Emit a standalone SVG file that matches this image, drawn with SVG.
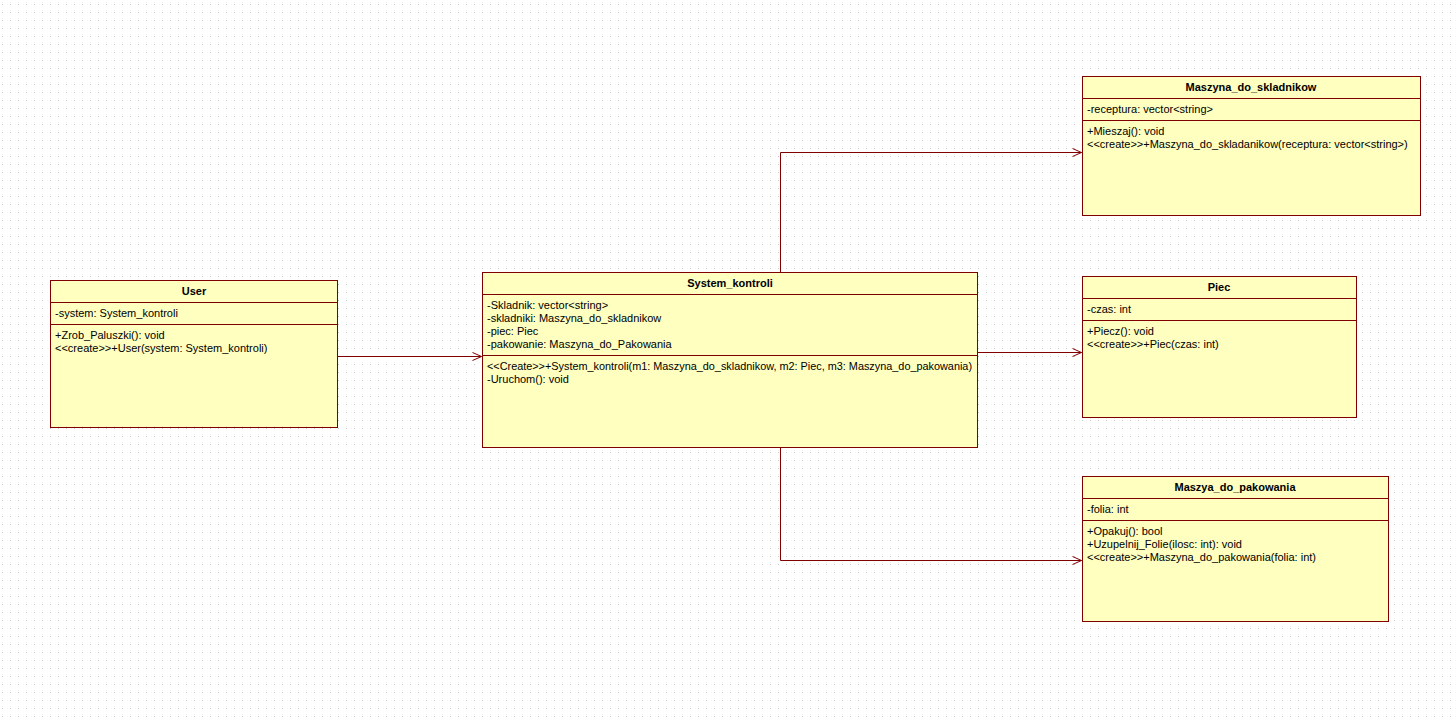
<svg xmlns="http://www.w3.org/2000/svg" width="1456" height="718" viewBox="0 0 1456 718">
<defs>
<pattern id="grid" x="0" y="0" width="8" height="8" patternUnits="userSpaceOnUse">
<rect x="2" y="4" width="1" height="1" fill="#c4c4c4"/>
</pattern>
<marker id="arr" markerWidth="12" markerHeight="12" refX="10" refY="5" orient="auto" markerUnits="userSpaceOnUse">
<path d="M1,1 L10,5 L1,9" fill="none" stroke="#800000" stroke-width="1"/>
</marker>
</defs>
<style>
.box{fill:#ffffc0;stroke:#800000;stroke-width:1}
.sep{stroke:#800000;stroke-width:1}
.t{font-family:"Liberation Sans",Arial,sans-serif;font-size:11px;fill:#000}
.title{font-family:"Liberation Sans",Arial,sans-serif;font-size:11px;font-weight:bold;fill:#000;text-anchor:middle}
.conn{fill:none;stroke:#800000;stroke-width:1}
</style>
<rect width="1456" height="718" fill="#ffffff"/>
<rect width="1456" height="718" fill="url(#grid)"/>

<g id="connectors">
<path class="conn" d="M337.5,356.5 H481.5" marker-end="url(#arr)"/>
<path class="conn" d="M780.5,272.5 V152.5 H1081.5" marker-end="url(#arr)"/>
<path class="conn" d="M977.5,352.5 H1081.5" marker-end="url(#arr)"/>
<path class="conn" d="M780.5,447.5 V560.5 H1081.5" marker-end="url(#arr)"/>
</g>

<g id="User">
<rect class="box" x="50.5" y="280.5" width="287" height="147"/>
<line class="sep" x1="50.5" y1="302.5" x2="337.5" y2="302.5"/>
<line class="sep" x1="50.5" y1="324.5" x2="337.5" y2="324.5"/>
<text class="title" x="194" y="295">User</text>
<text class="t" x="55" y="317">-system: System_kontroli</text>
<text class="t" x="55" y="339">+Zrob_Paluszki(): void</text>
<text class="t" x="55" y="352">&lt;&lt;create&gt;&gt;+User(system: System_kontroli)</text>
</g>

<g id="System_kontroli">
<rect class="box" x="482.5" y="272.5" width="495" height="175"/>
<line class="sep" x1="482.5" y1="294.5" x2="977.5" y2="294.5"/>
<line class="sep" x1="482.5" y1="355.5" x2="977.5" y2="355.5"/>
<text class="title" x="730" y="287">System_kontroli</text>
<text class="t" x="487" y="309">-Skladnik: vector&lt;string&gt;</text>
<text class="t" x="487" y="322">-skladniki: Maszyna_do_skladnikow</text>
<text class="t" x="487" y="335">-piec: Piec</text>
<text class="t" x="487" y="348">-pakowanie: Maszyna_do_Pakowania</text>
<text class="t" x="487" y="370" textLength="485" lengthAdjust="spacingAndGlyphs">&lt;&lt;Create&gt;&gt;+System_kontroli(m1: Maszyna_do_skladnikow, m2: Piec, m3: Maszyna_do_pakowania)</text>
<text class="t" x="487" y="383">-Uruchom(): void</text>
</g>

<g id="Maszyna_do_skladnikow">
<rect class="box" x="1082.5" y="76.5" width="338" height="139"/>
<line class="sep" x1="1082.5" y1="98.5" x2="1420.5" y2="98.5"/>
<line class="sep" x1="1082.5" y1="120.5" x2="1420.5" y2="120.5"/>
<text class="title" x="1251" y="91">Maszyna_do_skladnikow</text>
<text class="t" x="1087" y="113">-receptura: vector&lt;string&gt;</text>
<text class="t" x="1087" y="135">+Mieszaj(): void</text>
<text class="t" x="1087" y="148">&lt;&lt;create&gt;&gt;+Maszyna_do_skladanikow(receptura: vector&lt;string&gt;)</text>
</g>

<g id="Piec">
<rect class="box" x="1082.5" y="276.5" width="274" height="141"/>
<line class="sep" x1="1082.5" y1="298.5" x2="1356.5" y2="298.5"/>
<line class="sep" x1="1082.5" y1="320.5" x2="1356.5" y2="320.5"/>
<text class="title" x="1219" y="291">Piec</text>
<text class="t" x="1087" y="313">-czas: int</text>
<text class="t" x="1087" y="335">+Piecz(): void</text>
<text class="t" x="1087" y="348">&lt;&lt;create&gt;&gt;+Piec(czas: int)</text>
</g>

<g id="Maszya_do_pakowania">
<rect class="box" x="1082.5" y="476.5" width="306" height="145"/>
<line class="sep" x1="1082.5" y1="498.5" x2="1388.5" y2="498.5"/>
<line class="sep" x1="1082.5" y1="520.5" x2="1388.5" y2="520.5"/>
<text class="title" x="1235" y="491">Maszya_do_pakowania</text>
<text class="t" x="1087" y="513">-folia: int</text>
<text class="t" x="1087" y="535">+Opakuj(): bool</text>
<text class="t" x="1087" y="548">+Uzupelnij_Folie(ilosc: int): void</text>
<text class="t" x="1087" y="561">&lt;&lt;create&gt;&gt;+Maszyna_do_pakowania(folia: int)</text>
</g>
</svg>
